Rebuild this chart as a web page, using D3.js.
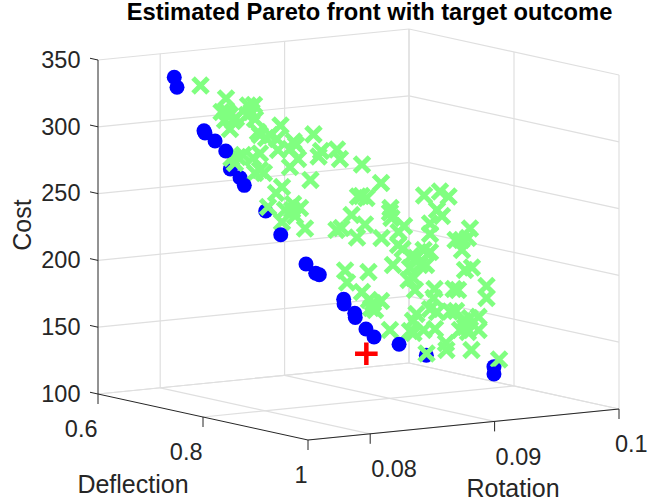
<!DOCTYPE html>
<html>
<head>
<meta charset="utf-8">
<script src="https://cdn.jsdelivr.net/npm/d3@7"></script>
<style>
html,body{margin:0;padding:0;background:#fff;}
svg{display:block;}
text{font-family:"Liberation Sans",Arial,sans-serif;fill:#262626;}
</style>
</head>
<body>
<script>
const chartTitle = "Estimated Pareto front with target outcome";
const rotationLabel = "Rotation", deflectionLabel = "Deflection", costLabel = "Cost";
const rotationTicks = [0.08, 0.09, 0.1];
const rotationTickLabels = ["0.08", "0.09", "0.1"];
const deflectionTicks = [0.6, 0.8, 1];
const deflectionTickLabels = ["0.6", "0.8", "1"];
const costTicks = [100, 150, 200, 250, 300, 350];

// Estimated Pareto front: the first five lie behind the candidates
const frontRotation = [0.08142,0.08220,0.08426,0.08873,0.09417,
  0.07691,0.07713,0.07930,0.07938,0.08019,0.08105,0.08254,0.08547,
  0.08328,0.08406,0.08435,0.08631,0.08634,0.08720,0.08724,0.08810,0.08875,0.09076,
  0.09417];
const frontDeflection = [0.7,0.7,0.7,0.9,0.9,
  0.7,0.7,0.7,0.7,0.7,0.7,0.7,0.7,
  0.8,0.8,0.8,0.8,0.8,0.8,0.8,0.8,0.8,0.8,
  0.9];
const frontCost = [271.1,263.8,237.0,142.1,128.5,
  343.9,336.2,301.7,299.9,293.2,284.9,257.8,218.1,
  206.8,199.2,197.8,177.6,174.1,166.3,163.2,153.7,147.1,139.8,
  123.0];
const frontBehindCount = 5;

// Candidate designs
const candRotation = [
  0.07902,0.08107,0.08071,0.08115,0.08139,0.08187,0.08099,0.08163,0.08139,0.08284,
  0.08332,0.08312,0.08276,0.08340,0.08364,0.08545,0.08429,0.08517,0.08380,0.08461,
  0.08650,0.08670,0.08621,0.08525,0.08686,0.08621,0.08151,0.08244,0.08324,0.08380,
  0.08203,0.08179,0.08380,0.08412,0.08340,0.08557,0.08509,0.08445,0.08638,0.08581,
  0.08646,0.08662,0.08557,
  0.08388,0.08449,0.08429,0.08577,0.08601,0.08280,0.08364,0.08778,0.08931,0.08320,
  0.08573,0.08613,0.08694,0.08738,0.08802,0.08935,0.08746,0.08774,0.08814,0.09003,
  0.09015,0.09007,0.09072,0.09068,0.09027,0.08830,0.08642,0.08658,0.08778,0.08867,
  0.08931,0.08834,0.08851,0.08883,0.09003,
  0.08694,0.08682,0.08855,0.08983,0.09052,0.08959,0.08999,0.08903,0.08903,0.08903,
  0.08851,0.08790,0.08754,0.09108,0.09156,0.09224,0.09208,0.09160,0.08871,0.08822,
  0.09184,0.09240,0.08742,0.08730,0.08770,0.09357,0.09357,0.09092,0.09128,0.08939,
  0.08931,0.08782,0.08794,0.08766,0.08742,0.08903,0.08959,0.09064,0.09112,0.09293,
  0.09172,0.09224,0.09144,0.09184,0.09208,0.09293,0.08943,0.08851,0.08770,0.09031,
  0.09035,0.09236,0.08875,0.09458];
const candDeflection = [
  0.7,0.7,0.7,0.7,0.7,0.7,0.7,0.7,0.7,0.7,
  0.7,0.7,0.7,0.7,0.7,0.7,0.7,0.7,0.7,0.7,
  0.7,0.7,0.7,0.7,0.7,0.7,0.7,0.7,0.7,0.7,
  0.7,0.7,0.7,0.7,0.7,0.7,0.7,0.7,0.7,0.7,
  0.7,0.7,0.7,
  0.8,0.8,0.8,0.8,0.8,0.8,0.8,0.8,0.8,0.8,
  0.8,0.8,0.8,0.8,0.8,0.8,0.8,0.8,0.8,0.8,
  0.8,0.8,0.8,0.8,0.8,0.8,0.8,0.8,0.8,0.8,
  0.8,0.8,0.8,0.8,0.8,
  0.9,0.9,0.9,0.9,0.9,0.9,0.9,0.9,0.9,0.9,
  0.9,0.9,0.9,0.9,0.9,0.9,0.9,0.9,0.9,0.9,
  0.9,0.9,0.9,0.9,0.9,0.9,0.9,0.9,0.9,0.9,
  0.9,0.9,0.9,0.9,0.9,0.9,0.9,0.9,0.9,0.9,
  0.9,0.9,0.9,0.9,0.9,0.9,0.9,0.9,0.9,0.9,
  0.9,0.9,0.9,0.9];
const candCost = [
  335.8,324.2,314.4,314.0,311.5,308.8,308.1,306.8,301.1,317.3,
  317.2,312.2,310.2,306.6,296.7,299.9,291.6,290.1,294.3,293.6,
  286.9,284.1,281.6,281.7,273.5,268.1,279.2,280.6,277.6,280.4,
  279.5,275.2,268.1,265.5,266.2,253.7,249.7,239.8,235.7,236.3,
  240.2,231.0,227.6,
  303.3,290.3,286.4,290.2,282.9,249.2,269.4,277.1,261.8,233.5,
  230.0,231.2,240.1,222.9,232.0,220.7,253.4,253.6,251.7,239.1,
  234.9,242.4,223.9,214.2,199.6,196.2,199.1,190.0,181.7,172.6,
  173.5,175.2,169.1,167.3,151.2,
  240.5,223.4,261.8,263.6,259.3,250.0,245.2,240.4,232.6,219.1,
  221.1,215.6,217.5,226.2,225.7,233.7,226.8,218.2,209.7,210.1,
  203.0,204.4,208.6,199.8,200.8,189.5,180.5,189.6,188.6,191.1,
  184.4,191.8,173.7,168.8,161.5,176.4,173.7,173.1,173.0,166.9,
  165.0,166.7,158.4,160.4,156.4,157.1,161.1,161.2,159.7,149.8,
  144.5,142.7,143.3,133.4];

const targetRotation = [0.08813];
const targetDeflection = [0.8];
const targetCost = [135.2];

const W = 648, H = 499;
const svg = d3.select("body").append("svg").attr("width", W).attr("height", H);

// 3-D box: unit scales feed an orthographic projection
const uScale = d3.scaleLinear().domain([0.075, 0.1]).range([0, 1]);
const vScale = d3.scaleLinear().domain([0.6, 1]).range([0, 1]);
const wScale = d3.scaleLinear().domain([100, 350]).range([0, 1]);
const origin = [98, 394], uVec = [311, -31], vVec = [210, 46], wVec = [0, -334];
function proj(r, d, c) {
  const u = uScale(r), v = vScale(d), w = wScale(c);
  return [origin[0] + u * uVec[0] + v * vVec[0] + w * wVec[0],
          origin[1] + u * uVec[1] + v * vVec[1] + w * wVec[1]];
}
const rMin = 0.075, rMax = 0.1, dMin = 0.6, dMax = 1, cMin = 100, cMax = 350;

function seg(g, a, b, color, width) {
  g.append("line").attr("x1", a[0]).attr("y1", a[1]).attr("x2", b[0]).attr("y2", b[1])
    .attr("stroke", color).attr("stroke-width", width);
}

// Grid
const grid = svg.append("g");
const gridColor = "#dfdfdf";
costTicks.forEach(c => {
  seg(grid, proj(rMin, dMin, c), proj(rMax, dMin, c), gridColor, 1.2);
  seg(grid, proj(rMax, dMin, c), proj(rMax, dMax, c), gridColor, 1.2);
});
rotationTicks.forEach(r => {
  seg(grid, proj(r, dMin, cMin), proj(r, dMin, cMax), gridColor, 1.2);
  seg(grid, proj(r, dMin, cMin), proj(r, dMax, cMin), gridColor, 1.2);
});
deflectionTicks.forEach(d => {
  seg(grid, proj(rMax, d, cMin), proj(rMax, d, cMax), gridColor, 1.2);
  seg(grid, proj(rMin, d, cMin), proj(rMax, d, cMin), gridColor, 1.2);
});

// Axes
const axes = svg.append("g");
const axisColor = "#262626";
seg(axes, proj(rMin, dMin, cMin), proj(rMin, dMin, cMax), axisColor, 1);
seg(axes, proj(rMin, dMin, cMin), proj(rMin, dMax, cMin), axisColor, 1);
seg(axes, proj(rMin, dMax, cMin), proj(rMax, dMax, cMin), axisColor, 1);

const tickFont = 23.5, labelFont = 25;
rotationTicks.forEach((r, i) => {
  const p = proj(r, dMax, cMin);
  seg(axes, p, [p[0], p[1] + 10], axisColor, 1);
  axes.append("text").attr("x", Math.min(p[0] + 1, W - 33)).attr("y", p[1] + 35)
    .attr("dy", "0.35em").attr("font-size", tickFont).text(rotationTickLabels[i]);
});
deflectionTicks.forEach((d, i) => {
  const p = proj(rMin, d, cMin);
  seg(axes, p, [p[0], p[1] + 10], axisColor, 1);
  axes.append("text").attr("x", p[0] - 0.5).attr("y", p[1] + 34.5)
    .attr("dy", "0.35em").attr("text-anchor", "end").attr("font-size", tickFont)
    .text(deflectionTickLabels[i]);
});
costTicks.forEach(c => {
  const p = proj(rMin, dMin, c);
  seg(axes, p, [p[0] - 8, p[1] - 1.75], axisColor, 1);
  axes.append("text").attr("x", p[0] - 17.5).attr("y", p[1] - 0.5)
    .attr("dy", "0.35em").attr("text-anchor", "end").attr("font-size", tickFont)
    .text(d3.format("d")(c));
});

// Labels
svg.append("text").attr("x", 133).attr("y", 484).attr("dy", "0.35em")
  .attr("text-anchor", "middle").attr("font-size", labelFont).text(deflectionLabel);
svg.append("text").attr("x", 513).attr("y", 488.5).attr("dy", "0.35em")
  .attr("text-anchor", "middle").attr("font-size", labelFont).text(rotationLabel);
svg.append("text").attr("transform", "translate(22,225) rotate(-90)").attr("dy", "0.35em")
  .attr("text-anchor", "middle").attr("font-size", labelFont).text(costLabel);
svg.append("text").attr("x", 369.5).attr("y", 12).attr("dy", "0.35em")
  .attr("text-anchor", "middle").attr("font-size", 23.7).attr("font-weight", "bold")
  .style("fill", "#000").text(chartTitle);

// Marks
const frontIdx = d3.range(frontRotation.length);
const xPath = "M-7.5,-7.5L7.5,7.5M-7.5,7.5L7.5,-7.5";
const plusPath = "M-11.3,0L11.3,0M0,-11.3L0,11.3";

function drawFront(idx) {
  svg.append("g").selectAll("circle").data(idx).join("circle")
    .attr("cx", i => proj(frontRotation[i], frontDeflection[i], frontCost[i])[0])
    .attr("cy", i => proj(frontRotation[i], frontDeflection[i], frontCost[i])[1])
    .attr("r", 7.5).attr("fill", "#0000ff");
}
drawFront(frontIdx.slice(0, frontBehindCount));

svg.append("g").selectAll("path").data(d3.range(candRotation.length)).join("path")
  .attr("transform", i => {
    const p = proj(candRotation[i], candDeflection[i], candCost[i]);
    return `translate(${p[0]},${p[1]})`;
  })
  .attr("d", xPath).attr("fill", "none").attr("stroke", "#80ff80").attr("stroke-width", 5);

drawFront(frontIdx.slice(frontBehindCount));

svg.append("g").selectAll("path").data(targetRotation.map((r, i) => i)).join("path")
  .attr("transform", i => {
    const p = proj(targetRotation[i], targetDeflection[i], targetCost[i]);
    return `translate(${p[0]},${p[1]})`;
  })
  .attr("d", plusPath).attr("fill", "none").attr("stroke", "#ff0000").attr("stroke-width", 4.5);
</script>
</body>
</html>
